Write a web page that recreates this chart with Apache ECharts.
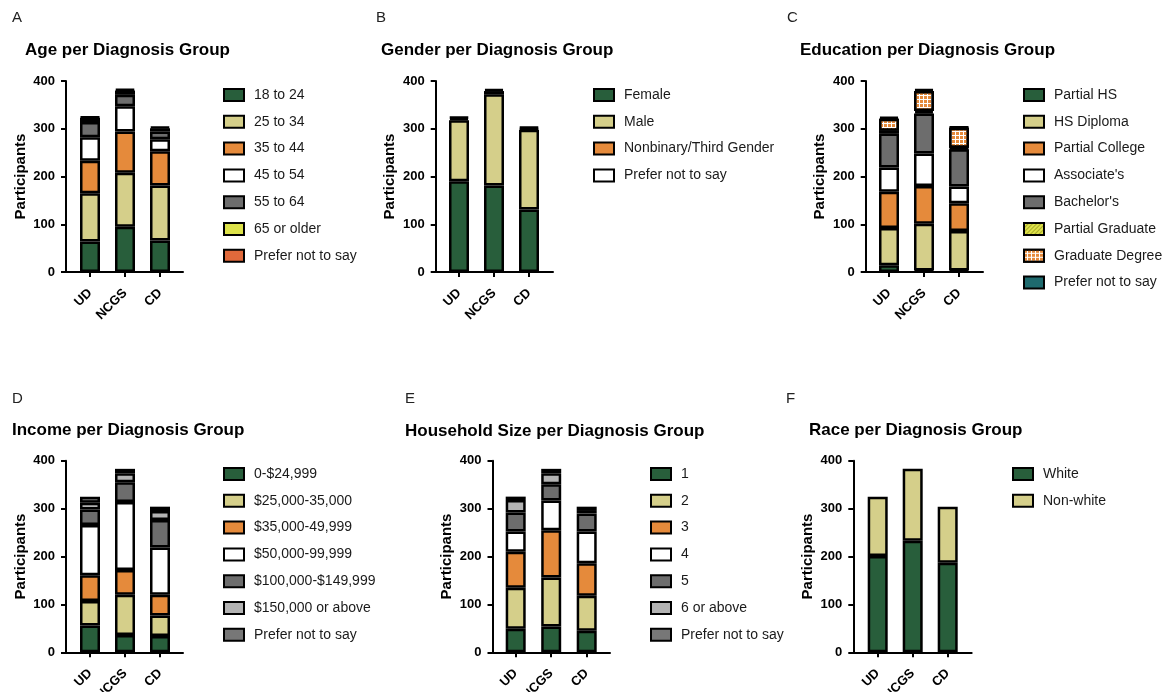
<!DOCTYPE html>
<html>
<head>
<meta charset="utf-8">
<script src="https://cdn.jsdelivr.net/npm/echarts@6/dist/echarts.min.js"></script>
<style>
html,body{margin:0;padding:0;background:#fff;}
#chart{width:1165px;height:692px;}
</style>
</head>
<body>
<div id="chart"></div>
<script>
// ---------------- DATA ----------------
const categories = ['UD', 'NCGS', 'CD'];
const yTicks = [0, 100, 200, 300, 400];

const ageGroups = ['18 to 24', '25 to 34', '35 to 44', '45 to 54', '55 to 64', '65 or older', 'Prefer not to say'];
const ageValues = [
  [64, 95, 66],
  [101, 113, 115],
  [68, 86, 72],
  [49, 53, 25],
  [32, 24, 16],
  [9, 9, 7],
  [2, 3, 3]
];

const genderGroups = ['Female', 'Male', 'Nonbinary/Third Gender', 'Prefer not to say'];
const genderValues = [
  [190, 181, 131],
  [128, 191, 167],
  [4, 7, 3],
  [3, 4, 3]
];

const educationGroups = ['Partial HS', 'HS Diploma', 'Partial College', "Associate's", "Bachelor's", 'Partial Graduate', 'Graduate Degree', 'Prefer not to say'];
const educationValues = [
  [14, 3, 3],
  [78, 98, 83],
  [76, 79, 58],
  [51, 68, 35],
  [71, 84, 78],
  [6, 5, 3],
  [25, 42, 42],
  [4, 4, 2]
];

const incomeGroups = ['0-$24,999', '$25,000-35,000', '$35,000-49,999', '$50,000-99,999', '$100,000-$149,999', '$150,000 or above', 'Prefer not to say'];
const incomeValues = [
  [56, 36, 34],
  [51, 84, 43],
  [54, 52, 43],
  [105, 142, 99],
  [32, 41, 57],
  [14, 19, 19],
  [13, 9, 9]
];

const householdGroups = ['1', '2', '3', '4', '5', '6 or above', 'Prefer not to say'];
const householdValues = [
  [49, 54, 45],
  [86, 102, 73],
  [75, 99, 68],
  [42, 62, 66],
  [40, 34, 38],
  [26, 23, 7],
  [7, 9, 7]
];

const raceGroups = ['White', 'Non-white'];
const raceValues = [
  [201, 233, 187],
  [124, 150, 117]
];

// ---------------- STYLE / LAYOUT ----------------
const FONT = '"Liberation Sans", Arial, Helvetica, sans-serif';
const GREEN = '#285e3b', KHAKI = '#d5cf8a', ORANGE = '#e58a3b', WHITE = '#ffffff',
      DGREY = '#6d6d6d', LGREY = '#b3b3b3', LIME = '#dde24a', RED = '#e0693b', TEAL = '#1e6a6e', MGREY = '#777777';

const hatch = {symbol: 'rect', symbolSize: 1, dashArrayX: [1, 0], dashArrayY: [1, 2], rotation: -Math.PI / 4, color: '#a9a92a'};
const gridDecal = {symbol: 'rect', symbolSize: 1, dashArrayX: [3, 1], dashArrayY: [3, 1], rotation: 0, color: ORANGE};

const panels = [
  {key: 'A', title: 'Age per Diagnosis Group', names: ageGroups, values: ageValues,
   colors: [GREEN, KHAKI, ORANGE, WHITE, DGREY, LIME, RED],
   axisX: 66, c0: 90, step: 35, end: 183, top: 81, bottom: 272,
   legendX: 223, legendY: 95, letterX: 12, letterY: 10, titleX: 25, titleY: 42},
  {key: 'B', title: 'Gender per Diagnosis Group', names: genderGroups, values: genderValues,
   colors: [GREEN, KHAKI, ORANGE, WHITE],
   axisX: 435.7, c0: 459, step: 35, end: 553, top: 81, bottom: 272,
   legendX: 593, legendY: 95, letterX: 376, letterY: 10, titleX: 381, titleY: 42},
  {key: 'C', title: 'Education per Diagnosis Group', names: educationGroups, values: educationValues,
   colors: [GREEN, KHAKI, ORANGE, WHITE, DGREY, LIME, WHITE, TEAL],
   decals: [null, null, null, null, null, hatch, gridDecal, null],
   axisX: 865.7, c0: 889, step: 35, end: 983, top: 81, bottom: 272,
   legendX: 1023, legendY: 95, letterX: 787, letterY: 10, titleX: 800, titleY: 42},
  {key: 'D', title: 'Income per Diagnosis Group', names: incomeGroups, values: incomeValues,
   colors: [GREEN, KHAKI, ORANGE, WHITE, DGREY, LGREY, MGREY],
   axisX: 66, c0: 90, step: 35, end: 183, top: 460.7, bottom: 652.3,
   legendX: 223, legendY: 474, letterX: 12, letterY: 391, titleX: 12, titleY: 422},
  {key: 'E', title: 'Household Size per Diagnosis Group', names: householdGroups, values: householdValues,
   colors: [GREEN, KHAKI, ORANGE, WHITE, DGREY, LGREY, MGREY],
   axisX: 492.5, c0: 515.7, step: 35.5, end: 610, top: 460.7, bottom: 652.3,
   legendX: 650, legendY: 474, letterX: 405, letterY: 391, titleX: 405, titleY: 423},
  {key: 'F', title: 'Race per Diagnosis Group', names: raceGroups, values: raceValues,
   colors: [GREEN, KHAKI],
   axisX: 853.3, c0: 877.7, step: 35, end: 971.7, top: 460.7, bottom: 652.3,
   legendX: 1012, legendY: 474, letterX: 786, letterY: 391, titleX: 809, titleY: 422}
];

const grids = [], xAxes = [], yAxes = [], series = [], legends = [], titles = [];

panels.forEach((p, pi) => {
  const gLeft = p.c0 - p.step / 2;
  const gWidth = p.step * 3;
  const h = p.bottom - p.top;
  const main = pi * 2, frame = pi * 2 + 1;
  grids.push({left: gLeft, top: p.top, width: gWidth, height: h, containLabel: false, outerBoundsMode: 'none'});
  grids.push({left: p.axisX, top: p.top, width: p.end - p.axisX, height: h, containLabel: false, outerBoundsMode: 'none'});

  xAxes.push({
    type: 'category', gridIndex: main, data: categories,
    axisLine: {show: false},
    axisTick: {show: true, alignWithLabel: true, length: 5, lineStyle: {color: '#000', width: 2}},
    axisLabel: {rotate: 45, margin: 19, color: '#000', fontFamily: FONT, fontWeight: 'bold', fontSize: 13},
    splitLine: {show: false}
  });
  xAxes.push({
    type: 'category', gridIndex: frame, data: [''],
    axisLine: {show: true, lineStyle: {color: '#000', width: 2}},
    axisTick: {show: false}, axisLabel: {show: false}, splitLine: {show: false}
  });
  yAxes.push({
    type: 'value', gridIndex: main, min: yTicks[0], max: yTicks[yTicks.length - 1], interval: 100,
    offset: gLeft - p.axisX,
    name: 'Participants', nameLocation: 'middle', nameGap: 38,
    nameTextStyle: {fontFamily: FONT, fontWeight: 'bold', fontSize: 15, color: '#000'},
    axisLine: {show: true, lineStyle: {color: '#000', width: 2}},
    axisTick: {show: true, length: 5, lineStyle: {color: '#000', width: 2}},
    axisLabel: {color: '#000', fontFamily: FONT, fontWeight: 'bold', fontSize: 13, margin: 11},
    splitLine: {show: false}
  });
  yAxes.push({type: 'value', gridIndex: frame, show: false, min: 0, max: 400});

  p.names.forEach((n, i) => {
    const style = {color: p.colors[i], borderColor: '#000', borderWidth: 2.5};
    if (p.decals && p.decals[i]) style.decal = p.decals[i];
    series.push({
      type: 'bar', name: n + '|' + p.key, stack: p.key,
      xAxisIndex: main, yAxisIndex: main,
      data: p.values[i], barWidth: 20,
      itemStyle: style, emphasis: {disabled: true}
    });
  });

  legends.push({
    orient: 'vertical', left: p.legendX, top: p.legendY - 8, padding: 0,
    itemWidth: 20, itemHeight: 12, itemGap: 10.8, icon: 'rect', selectedMode: false,
    data: p.names.map(n => n + '|' + p.key),
    formatter: n => n.split('|')[0],
    itemStyle: {borderColor: '#000', borderWidth: 2},
    textStyle: {fontFamily: FONT, fontSize: 14, color: '#1a1a1a', lineHeight: 16, padding: [0, 0, 0, 5]}
  });

  titles.push({text: p.key, left: p.letterX, top: p.letterY, padding: 0,
    textStyle: {fontFamily: FONT, fontWeight: 'normal', fontSize: 15, color: '#222'}});
  titles.push({text: p.title, left: p.titleX, top: p.titleY, padding: 0,
    textStyle: {fontFamily: FONT, fontWeight: 'bold', fontSize: 17, color: '#000'}});
});

const chart = echarts.init(document.getElementById('chart'), null, {renderer: 'canvas'});
chart.setOption({
  animation: false,
  backgroundColor: '#fff',
  title: titles,
  legend: legends,
  grid: grids,
  xAxis: xAxes,
  yAxis: yAxes,
  series: series
});
</script>
</body>
</html>
